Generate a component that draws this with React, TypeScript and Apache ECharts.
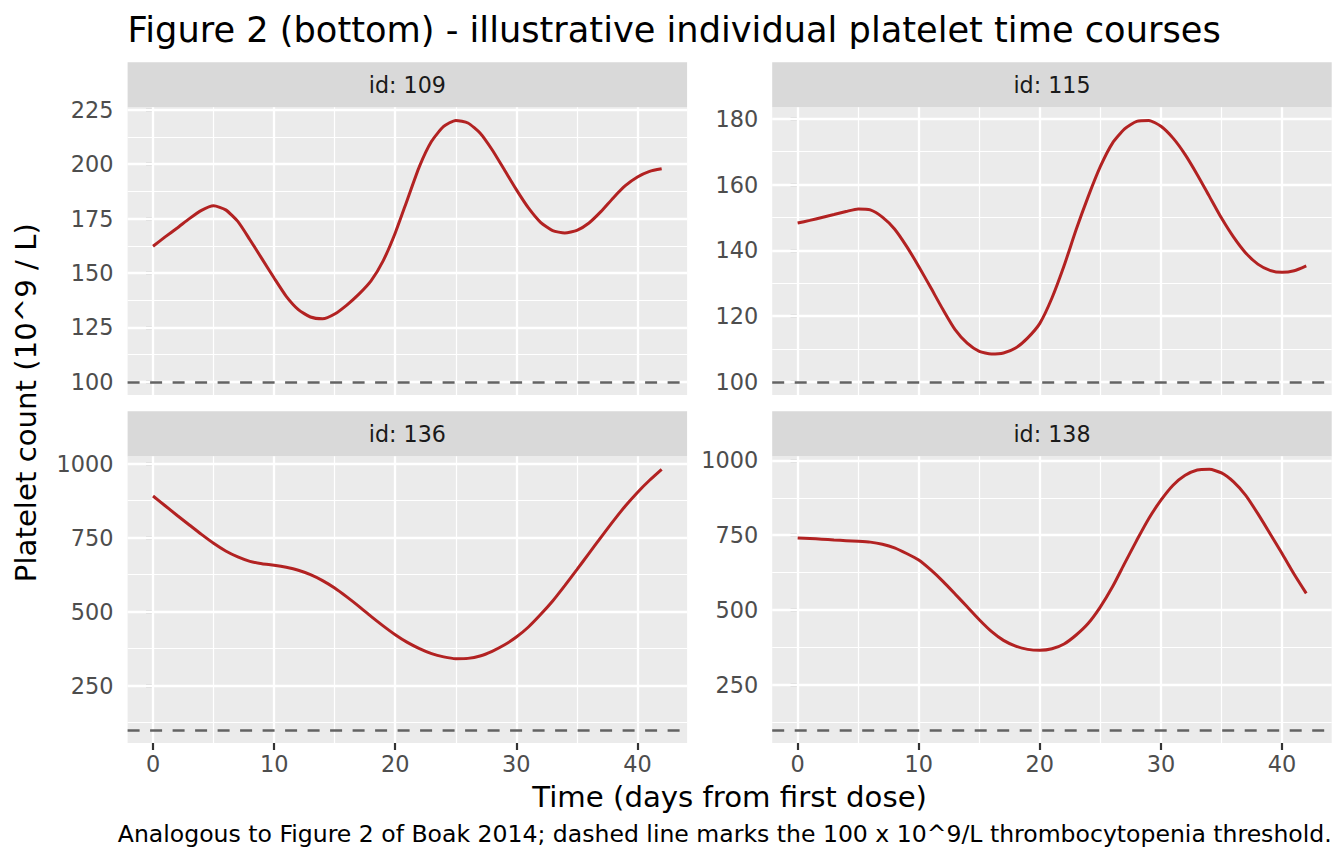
import React, { useEffect, useRef } from "react";
import * as echarts from "echarts";

// ---- data ----
const days = [0, 1, 2, 3, 4, 5, 6, 7, 8, 9, 10, 11, 12, 13, 14, 15, 16, 17, 18, 19, 20, 21, 22, 23, 24, 25, 26, 27, 28, 29, 30, 31, 32, 33, 34, 35, 36, 37, 38, 39, 40, 41, 42];

const values109 = [162.3, 166.6, 170.7, 175.0, 178.8, 180.9, 179.0, 173.7, 165.3, 156.5, 147.7, 139.3, 133.2, 129.8, 129.0, 131.2, 135.3, 140.3, 146.4, 155.6, 168.4, 183.7, 199.0, 210.5, 217.3, 220.1, 218.9, 214.3, 206.6, 197.5, 188.3, 179.9, 173.3, 169.5, 168.4, 169.6, 173.0, 178.3, 184.5, 190.1, 194.1, 196.7, 197.9];
const values115 = [148.3, 149.1, 150.0, 150.9, 151.8, 152.6, 152.3, 150.1, 146.5, 141.2, 135.1, 128.6, 122.0, 115.9, 111.8, 109.3, 108.5, 108.8, 110.3, 113.4, 117.8, 125.5, 135.3, 146.3, 156.4, 165.5, 172.6, 176.9, 179.2, 179.5, 177.7, 174.1, 169.1, 163.0, 156.4, 149.8, 144.0, 139.2, 135.8, 133.9, 133.3, 133.8, 135.3];
const values136 = [891, 858, 825, 793, 761, 731, 705, 685, 670, 662, 657, 650, 640, 625, 605, 580, 550, 518, 484, 452, 422, 396, 375, 358, 347, 341, 342, 350, 366, 387, 414, 448, 490, 536, 588, 642, 697, 752, 806, 857, 903, 944, 981];
const values138 = [741, 739, 737, 734, 732, 730, 727, 720, 708, 689, 667, 634, 596, 554, 511, 468, 429, 399, 380, 369, 366, 371, 387, 417, 456, 511, 578, 656, 733, 806, 867, 917, 950, 968, 970, 958, 928, 883, 822, 756, 689, 620, 556];

const panelLabels = ["id: 109", "id: 115", "id: 136", "id: 138"];
const threshold = 100;

const xTicks = [0, 10, 20, 30, 40];
const xMinorBreaks = [5, 15, 25, 35];
const yTicks109 = [100, 125, 150, 175, 200, 225];
const yMinor109 = [112.5, 137.5, 162.5, 187.5, 212.5];
const yTicks115 = [100, 120, 140, 160, 180];
const yMinor115 = [110, 130, 150, 170];
const yTicksHigh = [250, 500, 750, 1000];
const yMinorHigh = [125, 375, 625, 875];

const titleText = "Figure 2 (bottom) - illustrative individual platelet time courses";
const xTitle = "Time (days from first dose)";
const yTitle = "Platelet count (10^9 / L)";
const captionText = "Analogous to Figure 2 of Boak 2014; dashed line marks the 100 x 10^9/L thrombocytopenia threshold.";

// ---- layout ----
const FONT = "DejaVu Sans";
const X_MIN = -2.1;
const X_MAX = 44.1;
const STRIP_H = 45;
const PW = 559.5;
const L1 = 127.6;
const L2 = 772.2;
const T1 = 107.3;
const H1 = 287.7;
const T2 = 456.3;
const H2 = 286.7;

function expandRange(vals: number[]) {
  const lo = Math.min(threshold, ...vals);
  const hi = Math.max(threshold, ...vals);
  const pad = (hi - lo) * 0.05;
  return [lo - pad, hi + pad];
}

const panels = [
  { label: panelLabels[0], values: values109, yTicks: yTicks109, yMinor: yMinor109, left: L1, top: T1, height: H1, showX: false },
  { label: panelLabels[1], values: values115, yTicks: yTicks115, yMinor: yMinor115, left: L2, top: T1, height: H1, showX: false },
  { label: panelLabels[2], values: values136, yTicks: yTicksHigh, yMinor: yMinorHigh, left: L1, top: T2, height: H2, showX: true },
  { label: panelLabels[3], values: values138, yTicks: yTicksHigh, yMinor: yMinorHigh, left: L2, top: T2, height: H2, showX: true },
];

export default function App() {
  const ref = useRef<HTMLDivElement>(null);

  useEffect(() => {
    if (!ref.current) return;
    const chart = echarts.init(ref.current, null, { renderer: "svg" });

    const axisText = { color: "#4D4D4D", fontSize: 22.4, fontFamily: FONT };
    const tickStyle = { color: "#333333", width: 2.2 };
    const plain = (v: number) => String(v);

    const grid = panels.map((p) => ({
      left: p.left,
      top: p.top,
      width: PW,
      height: p.height,
      show: true,
      backgroundColor: "#EBEBEB",
      borderWidth: 0,
    }));

    const xAxis = panels.map((p, i) => ({
      type: "value",
      gridIndex: i,
      min: X_MIN,
      max: X_MAX,
      splitLine: { show: false },
      axisLine: { show: false },
      axisTick: { show: p.showX, length: 7, lineStyle: tickStyle, customValues: xTicks },
      axisLabel: { show: p.showX, margin: 10, customValues: xTicks, formatter: plain, ...axisText },
    }));

    const yAxis = panels.map((p, i) => {
      const [lo, hi] = expandRange(p.values);
      return {
        type: "value",
        gridIndex: i,
        min: lo,
        max: hi,
        splitLine: { show: false },
        axisLine: { show: false },
        axisTick: { show: true, length: 7, lineStyle: tickStyle, customValues: p.yTicks },
        axisLabel: { show: true, margin: 14, customValues: p.yTicks, formatter: plain, ...axisText },
      };
    });

    const series: any[] = [];
    panels.forEach((p, i) => {
      const gridLines: any[] = [];
      xMinorBreaks.forEach((v) => gridLines.push({ xAxis: v, lineStyle: { color: "#FFFFFF", width: 1.2, type: "solid" } }));
      p.yMinor.forEach((v) => gridLines.push({ yAxis: v, lineStyle: { color: "#FFFFFF", width: 1.2, type: "solid" } }));
      xTicks.forEach((v) => gridLines.push({ xAxis: v, lineStyle: { color: "#FFFFFF", width: 2.3, type: "solid" } }));
      p.yTicks.forEach((v) => gridLines.push({ yAxis: v, lineStyle: { color: "#FFFFFF", width: 2.3, type: "solid" } }));

      series.push({
        type: "line",
        xAxisIndex: i,
        yAxisIndex: i,
        data: [],
        silent: true,
        markLine: {
          z: 1,
          silent: true,
          symbol: ["none", "none"],
          label: { show: false },
          emphasis: { disabled: true },
          data: gridLines,
        },
      });
      series.push({
        type: "line",
        xAxisIndex: i,
        yAxisIndex: i,
        data: [],
        silent: true,
        markLine: {
          z: 2,
          silent: true,
          symbol: ["none", "none"],
          label: { show: false },
          emphasis: { disabled: true },
          data: [{ yAxis: threshold, lineStyle: { color: "#636363", width: 2.5, type: [12, 10.5] } }],
        },
      });
      series.push({
        type: "line",
        xAxisIndex: i,
        yAxisIndex: i,
        z: 3,
        data: days.map((d, k) => [d, p.values[k]]),
        showSymbol: false,
        smooth: 0.2,
        silent: true,
        lineStyle: { color: "#B22222", width: 3 },
      });
    });

    const graphic: any[] = [];
    panels.forEach((p) => {
      graphic.push({
        type: "rect",
        shape: { x: p.left, y: p.top - STRIP_H, width: PW, height: STRIP_H },
        style: { fill: "#D9D9D9" },
        silent: true,
      });
      graphic.push({
        type: "text",
        x: p.left + PW / 2,
        y: p.top - STRIP_H / 2,
        style: { text: p.label, fill: "#1A1A1A", font: `22.2px '${FONT}'`, textAlign: "center", textVerticalAlign: "middle" },
        silent: true,
      });
    });
    graphic.push({
      type: "text",
      x: L1,
      y: 29,
      style: { text: titleText, fill: "#000000", font: `35.2px '${FONT}'`, textAlign: "left", textVerticalAlign: "middle" },
      silent: true,
    });
    graphic.push({
      type: "text",
      x: (L1 + L2 + PW) / 2,
      y: 797,
      style: { text: xTitle, fill: "#000000", font: `29.2px '${FONT}'`, textAlign: "center", textVerticalAlign: "middle" },
      silent: true,
    });
    graphic.push({
      type: "text",
      x: 26,
      y: (T1 - STRIP_H + T2 + H2) / 2,
      rotation: Math.PI / 2,
      style: { text: yTitle, fill: "#000000", font: `29.2px '${FONT}'`, textAlign: "center", textVerticalAlign: "middle" },
      silent: true,
    });
    graphic.push({
      type: "text",
      x: L2 + PW,
      y: 834,
      style: { text: captionText, fill: "#000000", font: `23.55px '${FONT}'`, textAlign: "right", textVerticalAlign: "middle" },
      silent: true,
    });

    chart.setOption({
      animation: false,
      backgroundColor: "#FFFFFF",
      grid,
      xAxis,
      yAxis,
      series,
      graphic,
    });

    return () => chart.dispose();
  }, []);

  return (
    <div
      ref={ref}
      style={{ position: "fixed", left: 0, top: 0, width: 1344, height: 864 }}
    />
  );
}
